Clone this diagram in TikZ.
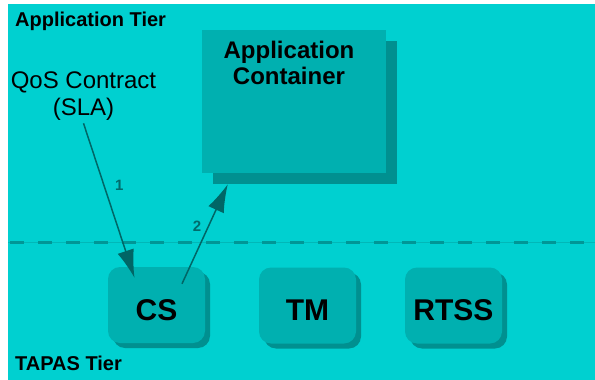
\documentclass[tikz,border=0pt]{standalone}
\usepackage{fontspec}
\setmainfont{Liberation Sans}
\usetikzlibrary{arrows.meta, shadows}

\definecolor{tierbg}{RGB}{0,208,208}
\definecolor{boxfill}{RGB}{0,176,176}
\definecolor{boxshade}{RGB}{0,144,144}
\definecolor{flowline}{RGB}{0,102,102}
\definecolor{flownum}{RGB}{0,108,108}
\definecolor{sepdash}{RGB}{0,150,150}
\definecolor{sepline}{RGB}{0,184,184}

\tikzset{
	tiername/.style = {font = \bfseries\fontsize{20}{24}\selectfont, anchor = base west, inner sep = 0},
	service/.style = {rectangle, rounded corners = 12pt, fill = boxfill, minimum width = 97pt, minimum height = 76pt,
		text height = 30pt, text depth = 0pt, inner sep = 0, font = \bfseries\fontsize{30}{34}\selectfont,
		drop shadow = {shadow xshift = 5pt, shadow yshift = -5pt, fill = boxshade, opacity = 1}},
	container/.style = {rectangle, fill = boxfill, minimum width = 184pt, minimum height = 143pt, inner sep = 0,
		drop shadow = {shadow xshift = 11pt, shadow yshift = -11pt, fill = boxshade, opacity = 1}},
	flownum/.style = {text = flownum, font = \bfseries\fontsize{15}{17}\selectfont, inner sep = 0}
}

\begin{document}
\begin{tikzpicture}[x = 1pt, y = -1pt]

	% Background
	
	\useasboundingbox (0, 0) rectangle (595, 380);
	\fill [tierbg] (8, 4) rectangle (595, 380);

	% Tier separator
	
	\draw [sepline, line width = 1pt] (8, 242) -- (595, 242);
	\draw [sepdash, line width = 3pt, dash pattern = on 14pt off 14pt] (10, 242) -- (595, 242);

	% Tier names
	
	\node [tiername] (apptier) at (15, 26) {Application Tier};
	\node [tiername] (tapastier) at (15, 370) {TAPAS Tier};

	% Application side
	
	\node [container] (appbox) at (294, 101.5) {};
	\node [font = \bfseries\fontsize{24}{26}\selectfont, align = center, inner sep = 0] (apptext) at (289, 63) {Application\\Container};
	\node [font = \fontsize{24}{26.5}\selectfont, align = center, inner sep = 0] (qos) at (83.5, 96) {QoS Contract\\(SLA)};

	% TAPAS services
	
	\node [service] (cs) at (156.5, 305) {CS};
	\node [service] (tm) at (307.5, 305.5) {TM};
	\node [service] (rtss) at (453.5, 305.5) {RTSS};

	% Flows
	
	\begin{scope}[-{Latex[length = 28pt, width = 17pt]}, flowline, line width = 1.5pt]
	
		\draw ([yshift = -3pt] qos.south) -- ([shift = {(-22, 11)}] cs.north) node [flownum, pos = 0.4, xshift = 15.5pt] (one) {1};
		\draw ([shift = {(25.5, 17)}] cs.north) -- ([shift = {(26, 11)}] appbox.south west) node [flownum, pos = 0.58, xshift = -11.5pt] (two) {2};
		
	\end{scope}

\end{tikzpicture}
\end{document}
